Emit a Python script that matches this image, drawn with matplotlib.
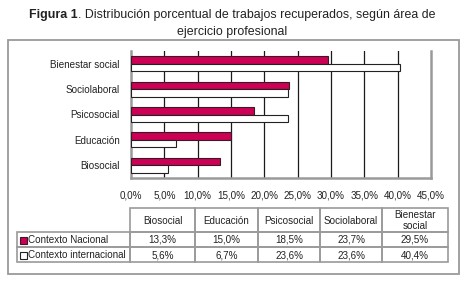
import matplotlib
matplotlib.use('Agg')
import matplotlib.pyplot as plt
from matplotlib.patches import Rectangle
from matplotlib.ticker import FuncFormatter, FixedLocator
import numpy as np

plt.rcParams['font.family'] = ['Liberation Sans', 'DejaVu Sans']

# ---- data ----
categories = ['Biosocial', 'Educación', 'Psicosocial', 'Sociolaboral', 'Bienestar social']
table_headers = ['Biosocial', 'Educación', 'Psicosocial', 'Sociolaboral', 'Bienestar\nsocial']
series_names = ['Contexto Nacional', 'Contexto internacional']
nacional = [13.3, 15.0, 18.5, 23.7, 29.5]
internacional = [5.6, 6.7, 23.6, 23.6, 40.4]
x_ticks = [0, 5, 10, 15, 20, 25, 30, 35, 40, 45]
title_bold = 'Figura 1'
title_rest = '. Distribución porcentual de trabajos recuperados, según área de'
title_line2 = 'ejercicio profesional'

PINK = '#cc0055'
GRAY = '#9a9a9a'
TXT = '#222222'
FS = 7.1
TFS = 8.9

W, H = 463, 281
fig = plt.figure(figsize=(W / 100, H / 100), dpi=100)

# overlay in pixel coordinates
ov = fig.add_axes([0, 0, 1, 1], zorder=0)
ov.set_xlim(0, W)
ov.set_ylim(H, 0)
ov.axis('off')
ov.patch.set_alpha(0)

# outer box
ov.add_patch(Rectangle((8, 40), 451, 234, fill=False, edgecolor=GRAY, lw=1.3))

# title
renderer = fig.canvas.get_renderer()
tb = ov.text(0, 15, title_bold, fontsize=TFS, fontweight='bold', va='center', ha='left', color=TXT)
tr = ov.text(0, 15, title_rest, fontsize=TFS, va='center', ha='left', color=TXT)
wb = tb.get_window_extent(renderer).width
wr = tr.get_window_extent(renderer).width
x0 = W / 2 - (wb + wr) / 2 + 1
tb.set_x(x0)
tr.set_x(x0 + wb)
ov.text(W / 2 + 1, 32, title_line2, fontsize=TFS, va='center', ha='center', color=TXT)

# main chart
ax = fig.add_axes([131 / W, 1 - 178 / H, 300 / W, 127 / H], zorder=1)
y = np.arange(len(categories))
h = 0.295
ax.barh(y + h / 2, nacional, height=h, color=PINK, edgecolor='#3a1a25', lw=0.8, zorder=3)
ax.barh(y - h / 2, internacional, height=h, color='white', edgecolor='#222222', lw=0.8, zorder=3)
ax.set_xlim(x_ticks[0], x_ticks[-1])
ax.set_ylim(-0.5, len(categories) - 0.5)
for t in x_ticks[1:-1]:
    ax.axvline(t, color='#1a1a1a', lw=0.9, zorder=1)
ax.xaxis.set_major_locator(FixedLocator(x_ticks))
ax.xaxis.set_major_formatter(FuncFormatter(lambda v, p: f'{v:.1f}%'.replace('.', ',')))
ax.set_yticks(y)
ax.set_yticklabels(categories)
ax.tick_params(axis='both', length=0, labelsize=FS, colors=TXT)
ax.tick_params(axis='x', pad=9)
ax.tick_params(axis='y', pad=8)
for s in ['left', 'bottom', 'right']:
    ax.spines[s].set_color(GRAY)
    ax.spines[s].set_linewidth(1.8)
ax.spines['top'].set_visible(False)
ax.patch.set_alpha(0)

# data table
col_x = [17, 130, 195, 258, 320, 382, 448]
row_y = [208, 232, 247, 262]
lw = 1.2
for i in range(1, len(col_x) - 1):
    ov.add_patch(Rectangle((col_x[i], row_y[0]), col_x[i + 1] - col_x[i], row_y[1] - row_y[0],
                           fill=False, edgecolor=GRAY, lw=lw))
    ov.text((col_x[i] + col_x[i + 1]) / 2, (row_y[0] + row_y[1]) / 2 + 0.5, table_headers[i - 1],
            ha='center', va='center', fontsize=FS, linespacing=1.05, color=TXT)
series = [nacional, internacional]
fills = [PINK, 'white']
edges = ['#3a1a25', '#222222']
for r in range(2):
    for i in range(len(col_x) - 1):
        ov.add_patch(Rectangle((col_x[i], row_y[r + 1]), col_x[i + 1] - col_x[i], row_y[r + 2] - row_y[r + 1],
                               fill=False, edgecolor=GRAY, lw=lw))
    yc = (row_y[r + 1] + row_y[r + 2]) / 2 + 0.5
    ov.add_patch(Rectangle((19.5, yc - 3.5), 7, 7, facecolor=fills[r], edgecolor=edges[r], lw=0.8))
    ov.text(27.5, yc, series_names[r], ha='left', va='center', fontsize=FS, color=TXT)
    for i, v in enumerate(series[r]):
        ov.text((col_x[i + 1] + col_x[i + 2]) / 2, yc, f'{v:.1f}%'.replace('.', ','),
                ha='center', va='center', fontsize=FS, color=TXT)

fig.savefig('out.png', dpi=100)
